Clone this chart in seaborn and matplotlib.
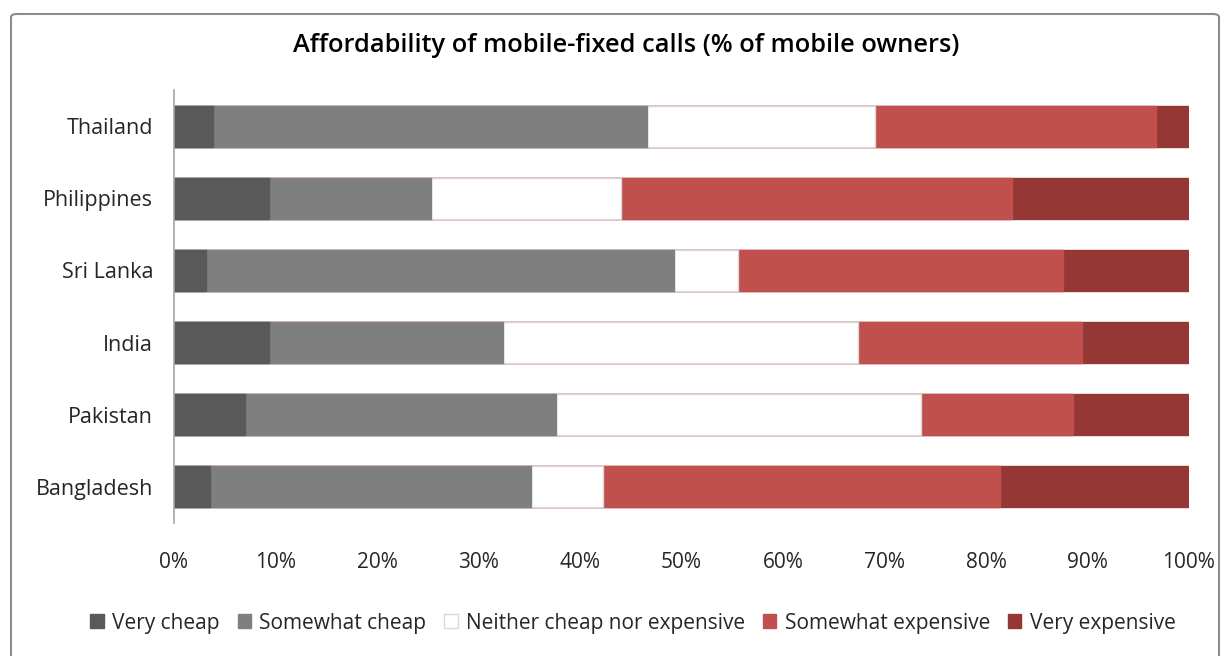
import matplotlib
matplotlib.use("Agg")
import matplotlib.pyplot as plt
import seaborn as sns
import pandas as pd
import numpy as np
from matplotlib.patches import Patch, FancyBboxPatch

countries = ["Thailand", "Philippines", "Sri Lanka", "India", "Pakistan", "Bangladesh"]
categories = ["Very cheap", "Somewhat cheap", "Neither cheap nor expensive",
              "Somewhat expensive", "Very expensive"]
very_cheap = [3.8, 9.4, 3.2, 9.4, 7.0, 3.5]
somewhat_cheap = [42.8, 15.9, 46.1, 23.0, 30.6, 31.7]
neither = [22.5, 18.7, 6.3, 35.0, 36.0, 7.1]
somewhat_exp = [27.6, 38.6, 32.0, 22.1, 15.0, 39.1]
very_exp = [3.3, 17.4, 12.4, 10.5, 11.4, 18.6]
xticks = [0, 10, 20, 30, 40, 50, 60, 70, 80, 90, 100]

series = [very_cheap, somewhat_cheap, neither, somewhat_exp, very_exp]
colors = ["#595959", "#7f7f7f", "#ffffff", "#c0504d", "#953735"]
edges = ["#595959", "#7f7f7f", "#d9d9d9", "#c0504d", "#953735"]

sns.set_theme(style="white")
plt.rcParams["font.family"] = ["Open Sans", "DejaVu Sans"]

fig = plt.figure(figsize=(12.29, 6.56), dpi=100)
ax = fig.add_axes([174/1229, (656-523)/656, (1189-174)/1229, (523-90)/656])

# outer border
fig.patches.append(FancyBboxPatch((11/1229, -0.02), (1219-11)/1229, (649-7)/656 + 0.02,
                                  boxstyle="round,pad=0,rounding_size=0.005",
                                  transform=fig.transFigure, fill=False,
                                  edgecolor="#8c8c8c", linewidth=1.5))

cum = np.zeros(len(countries))
cums = []
for s in series:
    cum = cum + np.array(s)
    cums.append(cum.copy())

for i in range(len(series) - 1, -1, -1):
    d = pd.DataFrame({"country": countries, "value": cums[i]})
    sns.barplot(data=d, y="country", x="value", orient="h", order=countries,
                color=colors[i], edgecolor=edges[i], linewidth=1.0,
                saturation=1, width=0.57, ax=ax)

ax.set_xlim(0, 100)
ax.set_ylim(5.5, -0.5)
ax.set_xticks(xticks)
ax.set_xticklabels([f"{t}%" for t in xticks], fontsize=15, color="#262626")
ax.tick_params(axis="y", labelsize=15.5, colors="#262626", length=0, pad=15)
ax.tick_params(axis="x", length=0, pad=21)
ax.set_xlabel("")
ax.set_ylabel("")
for sp in ["top", "right", "bottom"]:
    ax.spines[sp].set_visible(False)
ax.spines["left"].set_color("#a6a6a6")
ax.spines["left"].set_linewidth(1.2)

fig.text(626/1229, 1 - 45/656, "Affordability of mobile-fixed calls (% of mobile owners)",
         ha="center", va="center", fontsize=18.3, fontweight="semibold", color="#000000")

handles = [Patch(facecolor=c, edgecolor=e, label=l) for c, e, l in zip(colors, edges, categories)]
fig.legend(handles=handles, loc="center", bbox_to_anchor=(633/1229, 1 - 623/656), ncol=5,
           frameon=False, fontsize=15, handlelength=0.65, handleheight=0.65,
           handletextpad=0.4, columnspacing=0.85, labelcolor="#262626")

fig.savefig("out.png", dpi=100)
